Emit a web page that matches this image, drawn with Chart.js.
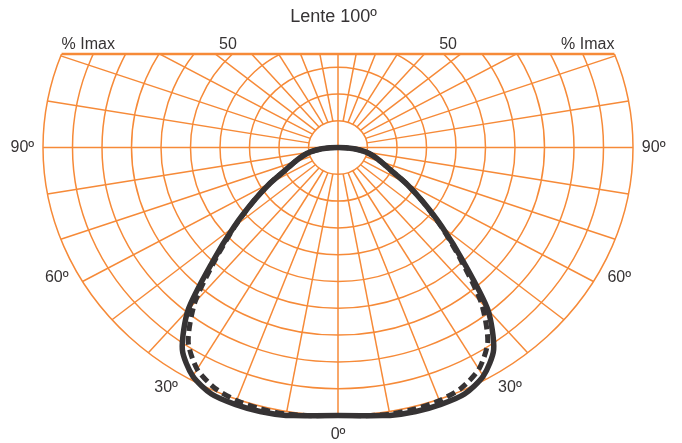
<!DOCTYPE html>
<html>
<head>
<meta charset="utf-8">
<script src="https://cdn.jsdelivr.net/npm/chart.js@4"></script>
<style>
  html, body { margin: 0; padding: 0; background: #fff; }
  #wrap { width: 682px; height: 443px; position: relative; }
</style>
</head>
<body>
<div id="wrap"><canvas id="polar"></canvas></div>
<script>
const TITLE = "Lente 100º";

// half curve, 0º = straight down, values in % of Imax (curve is symmetric)
const angles = [0, 5, 10, 15, 20, 25, 30, 35, 40, 45, 50, 55, 60, 65, 70, 75, 80, 85, 90];
const solidValues = [100, 100.5, 101.5, 102, 102, 101.5, 98.5, 92, 79, 60, 46, 35, 26.5, 19.5, 15.5, 12.5, 9.5, 5.5, 0];
const dashedValues = [100, 100.5, 101, 101, 100.5, 99, 95.5, 88.5, 75.5, 58.5, 45.5, 35, 26.5, 19.5, 15.5, 12.5, 9.5, 5.5, 0];

// grid
const rings = [10, 20, 30, 40, 50, 60, 70, 80, 90, 100];
const spokeStep = 10;
const angleTicks = [0, 30, 60, 90];
const angleTickLabels = ["0º", "30º", "60º", "90º"];
const topTicks = [100, 50];
const topTickLabels = ["% Imax", "50"];
const Y_TOP = 34.9; // grid is cut here (in % above the centre)

const GRID = "#f68a38";
const INK = "#363334";

function polar(r, deg) {
    const a = deg * Math.PI / 180;
    return { x: r * Math.sin(a), y: -r * Math.cos(a) };
}

function curvePoints(values) {
    const pts = [];
    for (let i = 0; i < angles.length; i++) pts.push(polar(values[i], angles[i]));
    for (let i = angles.length - 2; i >= 0; i--) pts.push(polar(values[i], -angles[i]));
    return pts;
}

const gridPlugin = {
    id: "photometricGrid",
    beforeDatasetsDraw(chart) {
        const { ctx, scales: { x, y } } = chart;
        const cx = x.getPixelForValue(0), cy = y.getPixelForValue(0);
        const top = y.getPixelForValue(Y_TOP);

        ctx.save();
        ctx.beginPath();
        ctx.rect(0, top, chart.width, chart.height - top);
        ctx.clip();
        ctx.strokeStyle = GRID;
        ctx.lineWidth = 1.5;
        rings.forEach(r => {
            const rx = x.getPixelForValue(r) - cx;
            const ry = cy - y.getPixelForValue(r);
            ctx.beginPath();
            ctx.ellipse(cx, cy, rx, ry, 0, 0, Math.PI * 2);
            ctx.stroke();
        });
        for (let a = 0; a < 360; a += spokeStep) {
            const p0 = polar(a % 90 === 0 ? 0 : rings[0], a);
            const p1 = polar(100, a);
            ctx.beginPath();
            ctx.moveTo(x.getPixelForValue(p0.x), y.getPixelForValue(p0.y));
            ctx.lineTo(x.getPixelForValue(p1.x), y.getPixelForValue(p1.y));
            ctx.stroke();
        }
        ctx.restore();

        // the cut line on top
        const half = 100 * Math.sqrt(1 - Math.pow(Y_TOP / 100, 2));
        ctx.save();
        ctx.strokeStyle = GRID;
        ctx.lineWidth = 2.4;
        ctx.beginPath();
        ctx.moveTo(x.getPixelForValue(-half), top);
        ctx.lineTo(x.getPixelForValue(half), top);
        ctx.stroke();
        ctx.restore();
    },
    afterDraw(chart) {
        const { ctx, scales: { x, y } } = chart;
        const top = y.getPixelForValue(Y_TOP);
        ctx.save();
        ctx.fillStyle = INK;

        ctx.font = "18px 'Liberation Sans', Arial, sans-serif";
        ctx.textAlign = "center";
        ctx.textBaseline = "alphabetic";
        ctx.fillText(TITLE, x.getPixelForValue(-1.5), 22);

        ctx.font = "16px 'Liberation Sans', Arial, sans-serif";
        topTicks.forEach((r, i) => {
            const half = r * Math.sqrt(1 - Math.pow(Y_TOP / r, 2));
            if (r === 100) {
                ctx.textAlign = "left";
                ctx.fillText(topTickLabels[i], x.getPixelForValue(-half), top - 5);
                ctx.textAlign = "right";
                ctx.fillText(topTickLabels[i], x.getPixelForValue(half), top - 5);
            } else {
                ctx.textAlign = "center";
                ctx.fillText(topTickLabels[i], x.getPixelForValue(-half - 1.5), top - 5);
                ctx.fillText(topTickLabels[i], x.getPixelForValue(half + 1.5), top - 5);
            }
        });

        ctx.textAlign = "center";
        ctx.textBaseline = "middle";
        angleTicks.forEach((a, i) => {
            const off = a % 90 === 0 ? 0 : 3;
            [1, -1].forEach(side => {
                if (a === 0 && side < 0) return;
                const p = polar(107, side * (a + off));
                ctx.fillText(angleTickLabels[i], x.getPixelForValue(p.x), y.getPixelForValue(p.y));
            });
        });
        ctx.restore();
    }
};

new Chart(document.getElementById("polar"), {
    type: "scatter",
    data: {
        datasets: [
            {
                label: "C0-C180",
                data: curvePoints(solidValues),
                showLine: true,
                borderColor: INK,
                borderWidth: 5.5,
                pointRadius: 0,
                tension: 0.25,
                clip: false
            },
            {
                label: "C90-C270",
                data: curvePoints(dashedValues),
                showLine: true,
                borderColor: INK,
                borderWidth: 5,
                borderDash: [9, 5],
                pointRadius: 0,
                tension: 0.25,
                clip: false
            }
        ]
    },
    options: {
        responsive: true,
        maintainAspectRatio: false,
        animation: false,
        layout: { padding: { left: 43, right: 49, top: 54, bottom: 27.5 } },
        scales: {
            x: { display: false, min: -100, max: 100 },
            y: { display: false, min: -100, max: Y_TOP }
        },
        plugins: {
            legend: { display: false },
            title: { display: false },
            tooltip: { enabled: false }
        }
    },
    plugins: [gridPlugin]
});
</script>
</body>
</html>
